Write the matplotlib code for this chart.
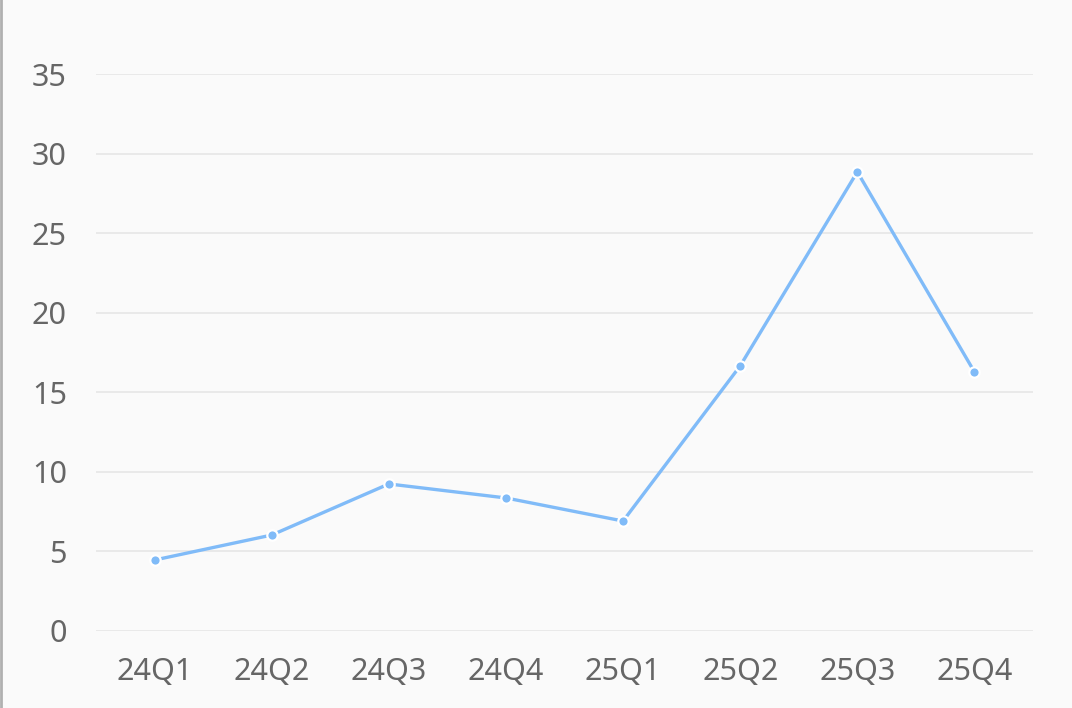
import matplotlib
matplotlib.use('Agg')
import matplotlib.pyplot as plt
import numpy as np

quarters = ["24Q1", "24Q2", "24Q3", "24Q4", "25Q1", "25Q2", "25Q3", "25Q4"]
values = [4.46, 6.03, 9.24, 8.36, 6.91, 16.66, 28.85, 16.28]
y_ticks = [0, 5, 10, 15, 20, 25, 30, 35]

plt.rcParams['font.family'] = ['Noto Sans', 'DejaVu Sans']

bg = '#fafafa'
fig = plt.figure(figsize=(10.72, 7.08), dpi=100, facecolor=bg)
ax = fig.add_axes([96 / 1072, 1 - 631 / 708, 937 / 1072, 557 / 708], facecolor=bg)

x = np.arange(len(quarters))
ax.plot(x, values, color='#80bbf8', linewidth=2.4, marker='o', markersize=7.5,
        markerfacecolor='#80bbf8', markeredgecolor='white', markeredgewidth=1.6,
        solid_capstyle='round', zorder=3)

ax.set_xlim(-0.5, len(quarters) - 0.5)
ax.set_ylim(0, 35)
ax.set_yticks(y_ticks)
ax.set_xticks(x)
ax.set_xticklabels(quarters)

ax.grid(axis='y', color='#e6e6e6', linewidth=1.2)
ax.set_axisbelow(True)
for s in ax.spines.values():
    s.set_visible(False)
ax.tick_params(axis='both', length=0, labelsize=22, labelcolor='#666666')
ax.tick_params(axis='x', pad=19)
ax.tick_params(axis='y', pad=21)

# thin gray border on the left edge of the image
fig.add_artist(plt.Line2D([0.001, 0.001], [0, 1], color='#b0b0b0', linewidth=2,
                          transform=fig.transFigure))

fig.savefig('out.png', dpi=100, facecolor=bg)
